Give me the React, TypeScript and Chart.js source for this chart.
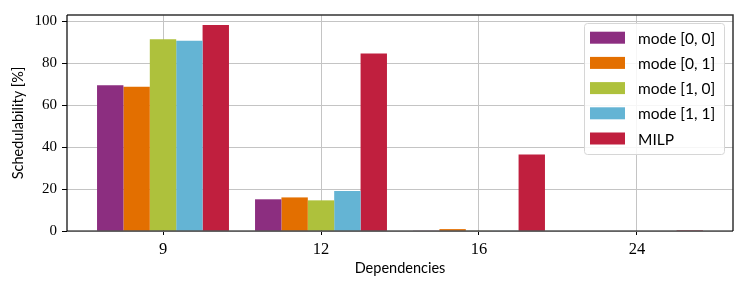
import React, { useEffect, useRef } from "react";
import { Chart, registerables } from "chart.js";

Chart.register(...registerables);

const categories = ["9", "12", "16", "24"];
const seriesLabels = ["mode [0, 0]", "mode [0, 1]", "mode [1, 0]", "mode [1, 1]", "MILP"];
const mode00 = [69.4, 15.1, 0.3, 0];
const mode01 = [68.7, 16.0, 0.9, 0];
const mode10 = [91.3, 14.6, 0.2, 0];
const mode11 = [90.6, 19.0, 0.2, 0];
const milp = [98.1, 84.5, 36.5, 0.4];
const seriesValues = [mode00, mode01, mode10, mode11, milp];
const seriesColors = ["#8c2e80", "#e36f00", "#aec13c", "#64b4d4", "#c01f3e"];
const yTicks = [0, 20, 40, 60, 80, 100];

const SERIF = "'Liberation Serif', 'DejaVu Serif', serif";
const SANS = "Lato, 'DejaVu Sans', sans-serif";

const framePlugin = {
  id: "frame",
  afterDraw(chart: any) {
    const { ctx, chartArea: a } = chart;
    ctx.save();
    ctx.strokeStyle = "#333";
    ctx.lineWidth = 1.5;
    ctx.beginPath();
    ctx.moveTo(a.left, a.top);
    ctx.lineTo(a.right, a.top);
    ctx.lineTo(a.right, a.bottom);
    ctx.stroke();
    ctx.strokeStyle = "#000";
    ctx.lineWidth = 1.2;
    ctx.beginPath();
    ctx.moveTo(a.left, a.top);
    ctx.lineTo(a.left, a.bottom);
    ctx.lineTo(a.right, a.bottom);
    ctx.stroke();

    // legend
    const ds = chart.data.datasets;
    const bx = a.right - 149;
    const by = a.top + 8;
    const bw = 140;
    const rowH = 25.2;
    const bh = 131;
    ctx.fillStyle = "rgba(255,255,255,0.85)";
    ctx.strokeStyle = "#d6d6d6";
    ctx.lineWidth = 1;
    ctx.beginPath();
    if (ctx.roundRect) ctx.roundRect(bx + 0.5, by + 0.5, bw, bh, 3);
    else ctx.rect(bx + 0.5, by + 0.5, bw, bh);
    ctx.fill();
    ctx.stroke();
    ctx.font = `15.5px ${SANS}`;
    ctx.textBaseline = "middle";
    ctx.textAlign = "left";
    ds.forEach((d: any, i: number) => {
      const cy = by + 14.7 + i * rowH;
      ctx.fillStyle = d.backgroundColor;
      ctx.fillRect(bx + 6, cy - 6, 35, 12);
      ctx.fillStyle = "#000";
      ctx.fillText(d.label, bx + 54, cy + 1);
    });
    ctx.restore();
  },
};

export default function App() {
  const ref = useRef<HTMLCanvasElement | null>(null);
  useEffect(() => {
    if (!ref.current) return;
    const chart = new Chart(ref.current, {
      type: "bar",
      data: {
        datasets: seriesLabels.map((label, si) => ({
          label,
          data: categories.map((_, ci) => ({ x: ci, y: seriesValues[si][ci] })),
          backgroundColor: seriesColors[si],
          borderWidth: 0,
          categoryPercentage: 0.835,
          barPercentage: 1.0,
        })),
      },
      options: {
        animation: false,
        responsive: false,
        maintainAspectRatio: false,
        layout: { padding: { left: 8, right: 15, top: 15, bottom: 10 } },
        plugins: { legend: { display: false }, tooltip: { enabled: false } },
        scales: {
          x: {
            type: "linear",
            offset: false,
            min: -0.6076,
            max: 3.6076,
            afterBuildTicks: (s: any) => {
              s.ticks = categories.map((_, i) => ({ value: i }));
            },
            afterFit: (s: any) => {
              s.height = 46;
            },
            ticks: {
              callback: (v: any) => categories[v as number] ?? "",
              font: { family: SERIF, size: 16.5 },
              color: "#000",
              padding: 5,
              autoSkip: false,
              maxRotation: 0,
            },
            grid: {
              offset: false,
              color: "#c4c4c4",
              lineWidth: 1,
              tickLength: 4,
              tickColor: "#000",
              drawTicks: true,
            },
            border: { display: false },
            title: {
              display: true,
              text: "Dependencies",
              font: { family: SANS, size: 14.5 },
              color: "#000",
              padding: { top: 0, bottom: 0 },
            },
          },
          y: {
            min: 0,
            max: 102.9,
            afterBuildTicks: (s: any) => {
              s.ticks = yTicks.map((v) => ({ value: v }));
            },
            afterFit: (s: any) => {
              s.width = 59;
            },
            ticks: {
              font: { family: SERIF, size: 15 },
              color: "#000",
              padding: 5,
            },
            grid: {
              color: "#c4c4c4",
              lineWidth: 1,
              tickLength: 5,
              tickColor: "#000",
            },
            border: { display: false },
            title: {
              display: true,
              text: "Schedulability [%]",
              font: { family: SANS, size: 14.5 },
              color: "#000",
              padding: { top: 2, bottom: 0 },
            },
          },
        },
      },
      plugins: [framePlugin],
    } as any);
    return () => chart.destroy();
  }, []);
  return (
    <div style={{ position: "absolute", left: 0, top: 0, width: 748, height: 287 }}>
      <canvas ref={ref} width={748} height={287} style={{ display: "block" }} />
    </div>
  );
}
